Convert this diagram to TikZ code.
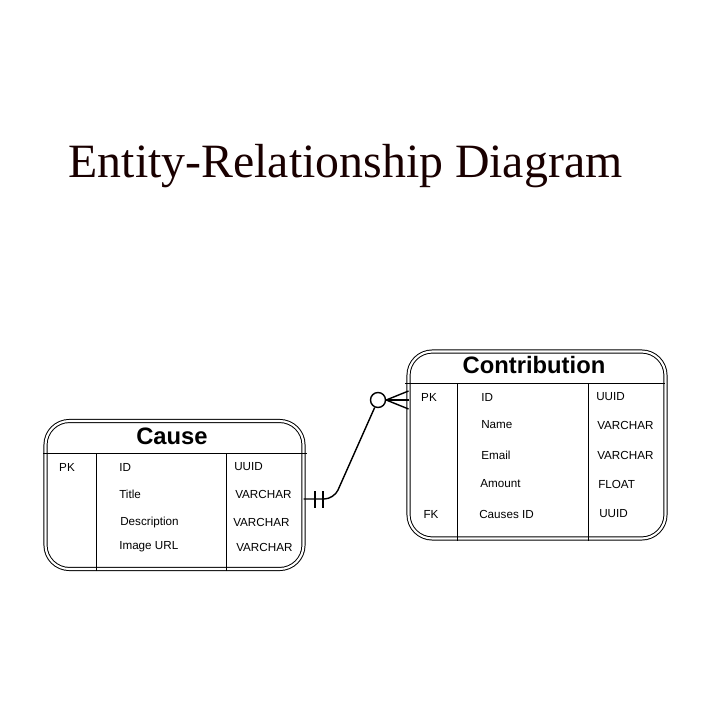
\documentclass[tikz,border=0pt]{standalone}
\usepackage{fontspec}
\setmainfont{Liberation Serif}
\setsansfont{Liberation Sans}

\begin{document}
\begin{tikzpicture}[x=0.025cm, y=-0.025cm]
                    \tikzset{entity/.style={draw, double, line width=0.7pt, double distance=1.5pt, rounded corners=17, inner sep=0, outer sep=0},
                             header/.style={font=\sffamily\bfseries\fontsize{16.9}{18}\selectfont},
                             attr/.style={font=\sffamily\fontsize{8.3}{10}\selectfont, anchor=west, inner sep=0},
                             key/.style={font=\sffamily\fontsize{8.3}{10}\selectfont, inner sep=0},
                             rule/.style={line width=0.7pt},
                             rel/.style={line width=1pt}}
                    \useasboundingbox (0,0) rectangle (721,721);

                    \node[anchor=base, font=\fontsize{34}{40}\selectfont, text=black!90!red] (title) at (345.5,178) {Entity-Relationship Diagram};

                    \node[entity, minimum width=258*0.025cm, minimum height=148*0.025cm] (cause) at (174.5,495) {};
                    \node[header] (causeH) at (172,436) {Cause};
                    \draw[rule] (43,453) -- (307,453);
                    \draw[rule] (96,453) -- (96,571);
                    \draw[rule] (226,453) -- (226,571);
                    \node[key] (causePK) at (67,467) {PK};
                    \node[attr] (causeA1) at (119,467) {ID};
                    \node[attr] (causeA2) at (119,494) {Title};
                    \node[attr] (causeA3) at (120,522) {Description};
                    \node[attr] (causeA4) at (119,547) {Image URL};
                    \node[attr] (causeT1) at (234,467) {UUID};
                    \node[attr] (causeT2) at (235,494) {VARCHAR};
                    \node[attr] (causeT3) at (233,522) {VARCHAR};
                    \node[attr] (causeT4) at (236,547) {VARCHAR};

                    \node[entity, minimum width=257*0.025cm, minimum height=187*0.025cm] (contrib) at (537,445) {};
                    \node[header] (contribH) at (534,365) {Contribution};
                    \draw[rule] (405,383) -- (665,383);
                    \draw[rule] (457,383) -- (457,541);
                    \draw[rule] (588,383) -- (588,541);
                    \node[key] (contribPK) at (429,397) {PK};
                    \node[key] (contribFK) at (431,514) {FK};
                    \node[attr] (contribA1) at (481,397) {ID};
                    \node[attr] (contribA2) at (481,425) {Name};
                    \node[attr] (contribA3) at (481,455) {Email};
                    \node[attr] (contribA4) at (480,484) {Amount};
                    \node[attr] (contribA5) at (479,514) {Causes ID};
                    \node[attr] (contribT1) at (596,397) {UUID};
                    \node[attr] (contribT2) at (597,425) {VARCHAR};
                    \node[attr] (contribT3) at (597,455) {VARCHAR};
                    \node[attr] (contribT4) at (598,484) {FLOAT};
                    \node[attr] (contribT5) at (599,514) {UUID};

                    \coordinate (one) at (cause.east |- 0,499);
                    \coordinate (many) at (contrib.west |- 0,400);
                    \node[draw, circle, rel, minimum size=15*0.025cm, inner sep=0] (zero) at (378,400) {};

                    \draw[rel, rounded corners=7] (one) -- (334,499) -- (zero);
                    \draw[rel] (315,491) -- (315,508);
                    \draw[rel] (323,491) -- (323,508);
                    \draw[rel] (zero.east) -- (many);
                    \draw[rel] (zero.east) -- ([yshift=-9*0.025cm]many);
                    \draw[rel] (zero.east) -- ([yshift=9*0.025cm]many);
                \end{tikzpicture}
\end{document}
